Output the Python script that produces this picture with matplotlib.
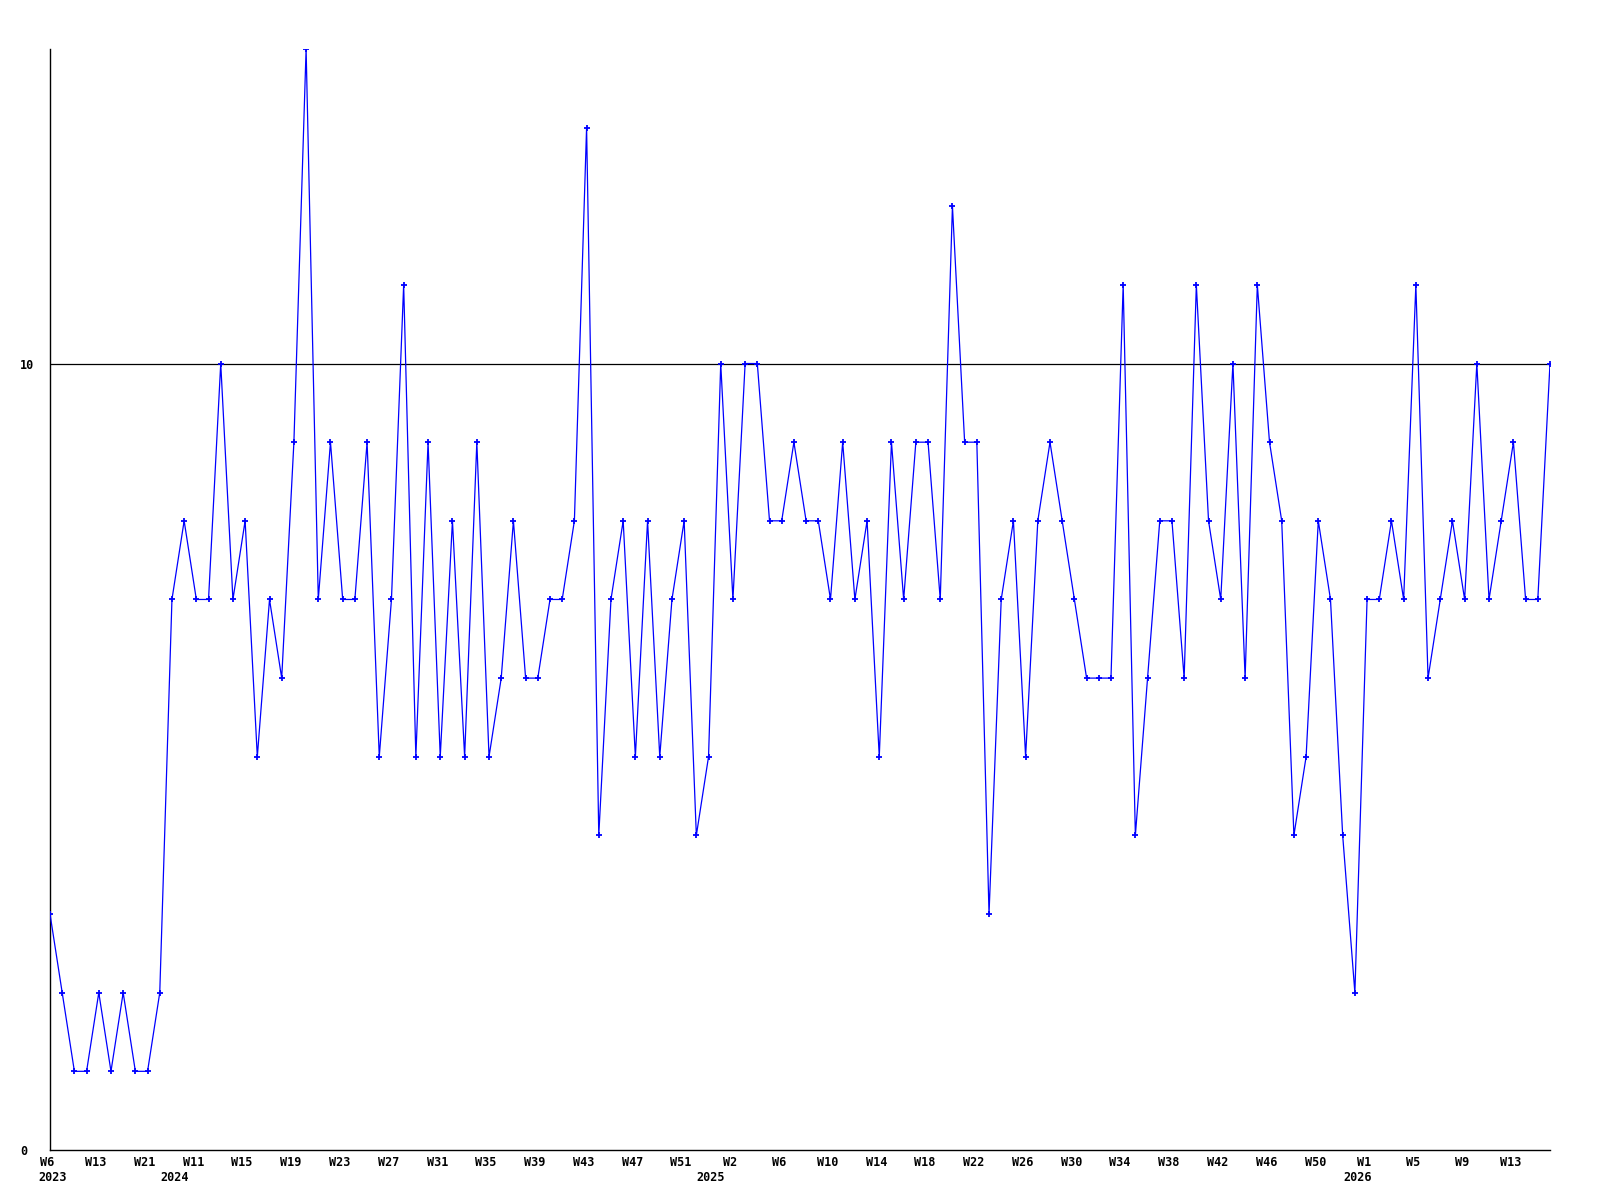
import matplotlib
matplotlib.use("Agg")
import matplotlib.pyplot as plt
from matplotlib.transforms import ScaledTranslation

# weekly counts, one per point
values = [3, 2, 1, 1, 2, 1, 2, 1, 1, 2,
          7, 8, 7, 7, 10, 7, 8, 5, 7, 6,
          9, 14, 7, 9, 7, 7, 9, 5, 7, 11,
          5, 9, 5, 8, 5, 9, 5, 6, 8, 6,
          6, 7, 7, 8, 13, 4, 7, 8, 5, 8,
          5, 7, 8, 4, 5, 10, 7, 10, 10, 8,
          8, 9, 8, 8, 7, 9, 7, 8, 5, 9,
          7, 9, 9, 7, 12, 9, 9, 3, 7, 8,
          5, 8, 9, 8, 7, 6, 6, 6, 11, 4,
          6, 8, 8, 6, 11, 8, 7, 10, 6, 11,
          9, 8, 4, 5, 8, 7, 4, 2, 7, 7,
          8, 7, 11, 6, 7, 8, 7, 10, 7, 8,
          9, 7, 7, 10]

week_labels = ["W6", "W13", "W21", "W11", "W15", "W19", "W23", "W27", "W31",
               "W35", "W39", "W43", "W47", "W51", "W2", "W6", "W10", "W14",
               "W18", "W22", "W26", "W30", "W34", "W38", "W42", "W46", "W50",
               "W1", "W5", "W9", "W13"]
label_step = 4

years = ["2023", "2024", "2025", "2026"]
year_start = [0, 10, 54, 107]

x = list(range(len(values)))
font = dict(family="DejaVu Sans Mono", weight="bold", size=8.5)

fig = plt.figure(figsize=(16, 12), dpi=100)
ax = fig.add_axes([0.03125, 0.0417, 0.9375, 0.9175])

ax.plot(x, values, color="#0000ff", lw=0.9, marker="+", ms=4, mew=1.3, zorder=3)
ax.axhline(10, color="black", lw=0.9, zorder=2)

ax.set_xlim(0, len(values) - 1)
ax.set_ylim(0, 14)
for s in ["top", "right"]:
    ax.spines[s].set_visible(False)
for s in ["left", "bottom"]:
    ax.spines[s].set_linewidth(1.0)

ax.set_yticks([0, 10])
ax.set_yticklabels(["0", "10"], **font)
for t in ax.get_yticklabels():
    t.set_horizontalalignment("left")
ax.tick_params(axis="y", length=0, pad=21.5)

ticks = x[::label_step]
ax.set_xticks(ticks)
ax.set_xticklabels(week_labels, **font)
ax.tick_params(axis="x", length=0, pad=4)
shift = ScaledTranslation(-3 / 100, 0, fig.dpi_scale_trans)
for t in ax.get_xticklabels():
    t.set_transform(t.get_transform() + shift)

for yr, pos in zip(years, year_start):
    ax.annotate(yr, xy=(pos + 0.2, 0), xycoords=("data", "axes fraction"),
                xytext=(0, -15), textcoords="offset points",
                ha="center", va="top", **font)

fig.savefig("out.png", dpi=100)
